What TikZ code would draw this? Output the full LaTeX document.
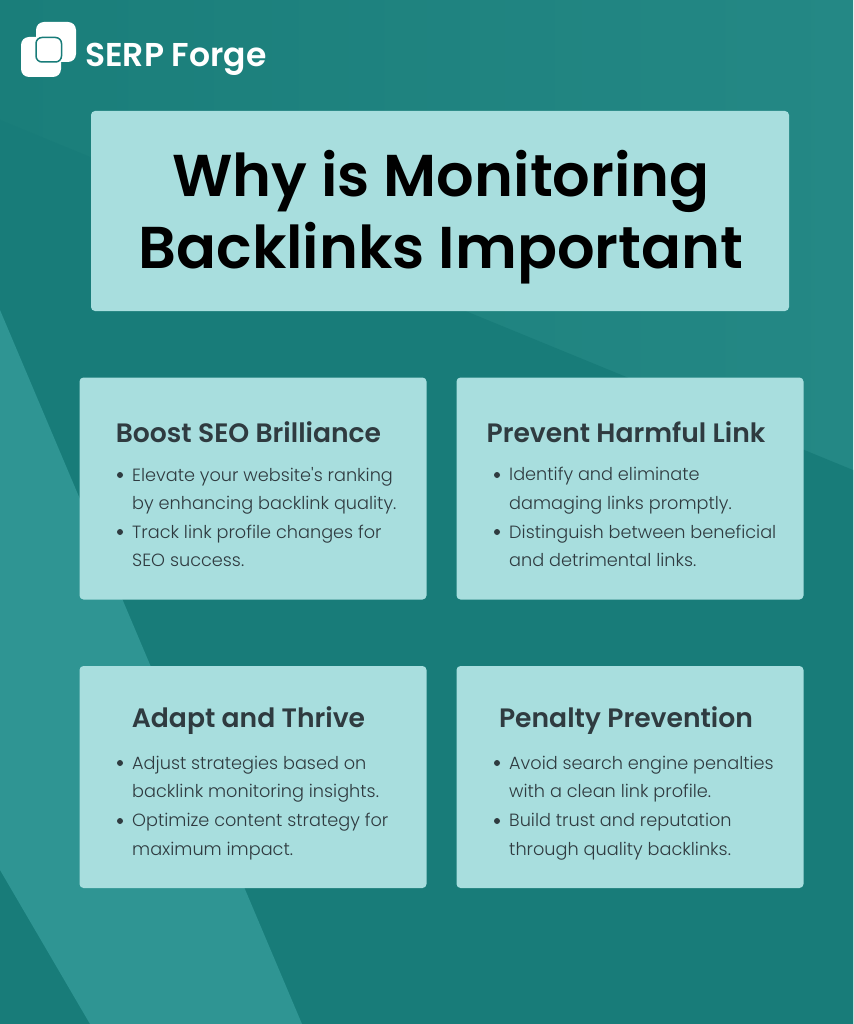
\documentclass[tikz,border=0pt]{standalone}
\usepackage{fontspec}
\setmainfont{Poppins}
\newfontfamily\thinfont{Poppins Light}
\newfontfamily\midfont{Poppins SemiBold}
\usetikzlibrary{positioning}
\definecolor{bgbase}{HTML}{187C79}
\definecolor{bgleft}{HTML}{1A7E7A}
\definecolor{bgright}{HTML}{248885}
\definecolor{bgband}{HTML}{2F9593}
\definecolor{panelfill}{HTML}{A8DEDE}
\definecolor{inktext}{HTML}{2F3B40}
\tikzset{
	%Define style for the panels
	panel/.style={
		rectangle,
		rounded corners=4pt,
		fill=panelfill,
		minimum width=347pt,
		minimum height=222pt,
		inner sep=0pt},
	%Define style for panel headings
	headtext/.style={
		font=\fontsize{26.6}{28}\midfont,
		text=inktext,
		inner sep=0pt},
	%Define style for panel lists
	bodytext/.style={
		font=\fontsize{17.7}{28.6}\thinfont,
		text=inktext,
		align=left,
		inner sep=0pt,
		anchor=north west},
	dotmark/.style={
		circle,
		fill=inktext,
		minimum size=6pt,
		inner sep=0pt},
	logobox/.style={
		rectangle,
		rounded corners=8pt,
		fill=white,
		minimum size=40pt,
		inner sep=0pt}
}
\begin{document}
\begin{tikzpicture}[x=1pt,y=-1pt]
	\useasboundingbox (0,0) rectangle (853,1024);
	
	% background
	\shade[left color=bgleft,right color=bgright] (0,0) rectangle (853,1024);
	\fill[bgbase] (0,120) -- (853,470) -- (853,1024) -- (0,1024) -- cycle;
	\fill[bgband] (0,310) -- (302,1024) -- (90,1024) -- (0,870) -- cycle;
	
	% logo
	\node[logobox] (logo-back) at (56,42) {};
	\node[logobox] (logo-front) at (41,57) {};
	\draw[bgbase,line width=1.5pt,rounded corners=6pt] (36,37.5) -- (61.5,37.5) -- (61.5,62) -- (36,62) -- cycle;
	\node[font=\fontsize{33}{35}\midfont,text=white,anchor=west,inner sep=0pt] (brand) at (85,59) {SERP Forge};
	
	% title
	\node[panel,minimum width=698pt,minimum height=200pt] (title) at (440,211) {};
	\node[font=\fontsize{59}{72}\midfont,text=black,align=center,inner sep=0pt] (title-text) at (441,217.5) {Why is Monitoring\\Backlinks Important};
	
	% panels
	\node[panel] (seo) at (253,488.5) {};
	\node[panel] (harm) at (630,488.5) {};
	\node[panel] (adapt) at (253,777) {};
	\node[panel] (penalty) at (630,777) {};
	
	\node[headtext] (seo-head) at (248.5,432) {Boost SEO Brilliance};
	\node[headtext] (harm-head) at (626,432) {Prevent Harmful Link};
	\node[headtext] (adapt-head) at (248.5,721) {Adapt and Thrive};
	\node[headtext] (penalty-head) at (626,721) {Penalty Prevention};
	
	\node[bodytext] (seo-a) at (132,467) {Elevate your website's ranking\\by enhancing backlink quality.};
	\node[bodytext] (seo-b) at (132,524.5) {Track link profile changes for\\SEO success.};
	\node[bodytext] (harm-a) at (509,467) {Identify and eliminate\\damaging links promptly.};
	\node[bodytext] (harm-b) at (509,524.5) {Distinguish between beneficial\\and detrimental links.};
	\node[bodytext] (adapt-a) at (132,755.5) {Adjust strategies based on\\backlink monitoring insights.};
	\node[bodytext] (adapt-b) at (132,813) {Optimize content strategy for\\maximum impact.};
	\node[bodytext] (penalty-a) at (509,755.5) {Avoid search engine penalties\\with a clean link profile.};
	\node[bodytext] (penalty-b) at (509,813) {Build trust and reputation\\through quality backlinks.};
	
	\foreach \x/\y/\n in {120/475/a,120/532/b,497/475/c,497/532/d,120/763/e,120/821/f,497/763/g,497/821/h}
		\node[dotmark] (dot-\n) at (\x,\y) {};
\end{tikzpicture}
\end{document}
